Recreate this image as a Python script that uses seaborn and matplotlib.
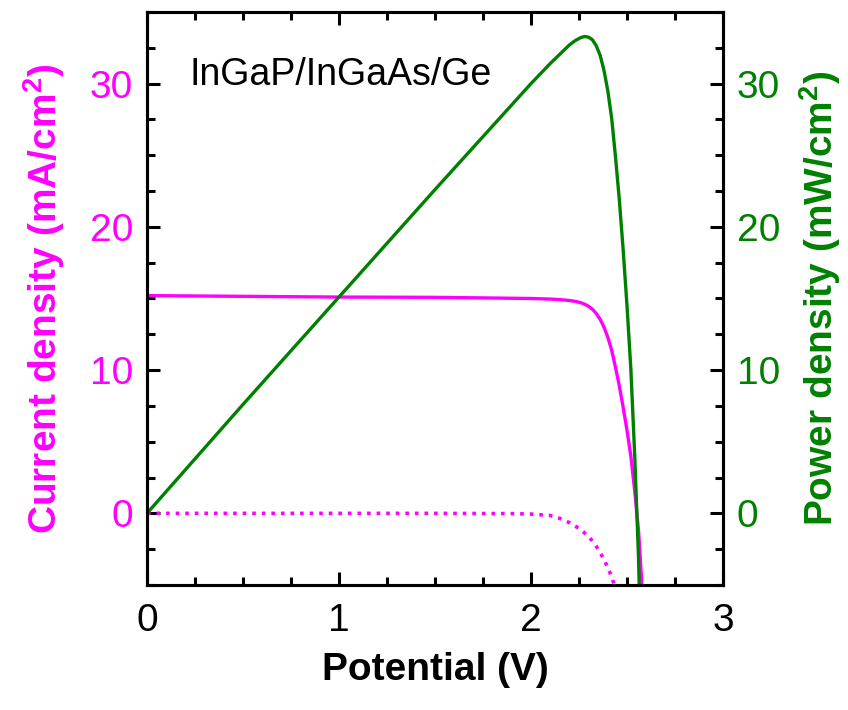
import matplotlib
matplotlib.use("Agg")
import matplotlib.pyplot as plt
import seaborn as sns
import pandas as pd
from matplotlib.ticker import MultipleLocator

# Data
v_light = [0.0, 0.5, 1.0, 1.5, 2.0, 2.1, 2.15, 2.2, 2.23, 2.26, 2.28, 2.30, 2.32,
           2.34, 2.36, 2.38, 2.40, 2.42, 2.44, 2.46, 2.48, 2.50, 2.52, 2.54, 2.56, 2.58]
j_light = [15.2, 15.15, 15.1, 15.08, 15.0, 14.96, 14.92, 14.86, 14.8, 14.7, 14.6, 14.45,
           14.25, 13.95, 13.55, 13.0, 12.3, 11.4, 10.2, 8.9, 7.4, 5.8, 4.0, 1.6, -1.2, -5.5]
p_light = [0.0, 7.6, 15.1, 22.6, 30.0, 31.4, 32.05, 32.7, 33.0, 33.22, 33.29, 33.24,
           33.06, 32.64, 31.98, 30.94, 29.5, 27.6, 24.9, 21.9, 18.4, 14.5, 10.1, 4.1,
           -3.1, -14.2]
v_dark = [0.0, 0.5, 1.0, 1.5, 1.9, 2.0, 2.1, 2.15, 2.2, 2.25, 2.3, 2.34, 2.38, 2.41, 2.44]
j_dark = [0.0, 0.0, 0.0, 0.0, -0.02, -0.05, -0.15, -0.35, -0.65, -1.05, -1.6, -2.3,
          -3.2, -4.1, -5.2]

x_ticks = [0, 1, 2, 3]
y_ticks = [0, 10, 20, 30]
label_text = "InGaP/InGaAs/Ge"

MAG = "#FF00FF"
GRN = "#008000"

sns.set_style("ticks")
plt.rcParams["font.family"] = ["Liberation Sans", "DejaVu Sans"]
plt.rcParams["mathtext.fontset"] = "custom"
plt.rcParams["mathtext.rm"] = "Liberation Sans"
plt.rcParams["mathtext.bf"] = "Liberation Sans:bold"
plt.rcParams["text.color"] = "black"
plt.rcParams["axes.labelcolor"] = "black"
plt.rcParams["xtick.color"] = "black"
plt.rcParams["ytick.color"] = "black"
plt.rcParams["axes.edgecolor"] = "black"

df_light = pd.DataFrame({"V": v_light, "J": j_light, "P": p_light})
df_dark = pd.DataFrame({"V": v_dark, "J": j_dark})

fig = plt.figure(figsize=(8.48, 7.10), dpi=100)
ax = fig.add_axes([0.1733, 0.1761, 0.6793, 0.807])
ax2 = ax.twinx()

sns.lineplot(data=df_light, x="V", y="J", ax=ax, color=MAG, lw=2.4,
             sort=False, estimator=None)
sns.lineplot(data=df_dark, x="V", y="J", ax=ax, color=MAG, lw=2.6,
             linestyle=":", sort=False, estimator=None)
sns.lineplot(data=df_light, x="V", y="P", ax=ax2, color=GRN, lw=2.4,
             sort=False, estimator=None)

for a in (ax, ax2):
    a.set_xlim(0, 3)
    a.set_ylim(-5, 35)
    for s in a.spines.values():
        s.set_linewidth(2.2)
        s.set_color("black")
        s.set_visible(True)

ax.set_xticks(x_ticks)
ax.set_yticks(y_ticks)
ax2.set_yticks(y_ticks)
ax.xaxis.set_minor_locator(MultipleLocator(0.25))
ax.yaxis.set_minor_locator(MultipleLocator(2.5))
ax2.yaxis.set_minor_locator(MultipleLocator(2.5))

ax.tick_params(axis="both", which="major", direction="in", length=9.5, width=2.2,
               labelsize=28, pad=10, top=True, color="black")
ax.tick_params(axis="x", which="major", pad=13)
ax.tick_params(axis="both", which="minor", direction="in", length=5.5, width=2.2,
               top=True, color="black")
ax.tick_params(axis="x", labelcolor="black")
ax.tick_params(axis="y", which="both", left=True, right=False, labelcolor=MAG)
ax2.tick_params(axis="y", which="major", direction="in", length=9.5, width=2.2,
                labelsize=28, pad=10, labelcolor=GRN, right=True, color="black")
ax2.tick_params(axis="y", which="minor", direction="in", length=5.5, width=2.2,
                right=True, color="black")

ax.set_xlabel("Potential (V)", fontsize=28, fontweight="bold", labelpad=9, color="black")
ax.set_ylabel(r"Current density (mA/cm$^\mathbf{2}$)", fontsize=28, fontweight="bold",
              color=MAG, labelpad=16)
ax2.set_ylabel(r"Power density (mW/cm$^\mathbf{2}$)", fontsize=28, fontweight="bold",
               color=GRN, labelpad=12, rotation=90)

ax.text(0.22, 30.6, label_text, fontsize=27, ha="left", va="center", color="black")

fig.savefig("out.png", dpi=100)
